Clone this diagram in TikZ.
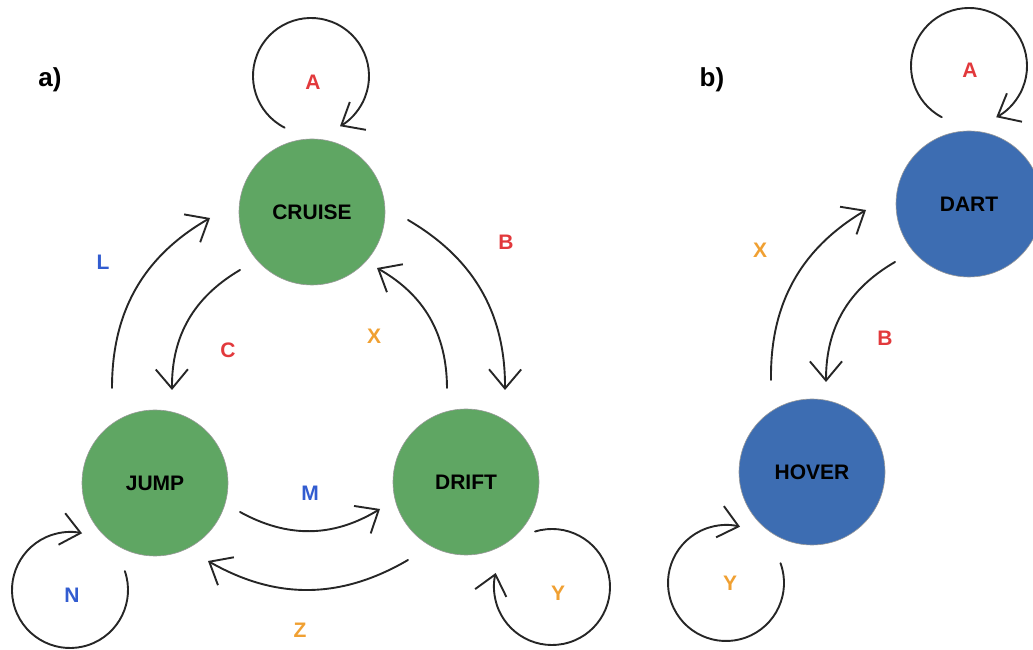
\documentclass[tikz,border=0pt]{standalone}
\usepackage{fontspec}
\setmainfont{Liberation Sans}
\usetikzlibrary{arrows.meta}
\definecolor{stategreen}{RGB}{95,166,99}
\definecolor{stateblue}{RGB}{61,109,178}
\definecolor{lblred}{RGB}{226,57,60}
\definecolor{lblblue}{RGB}{50,92,208}
\definecolor{lblorange}{RGB}{240,160,50}
\tikzstyle{vertex}=[circle,draw=black!40,line width=0.6pt,minimum size=146pt,inner sep=0pt,font=\fontsize{21}{25}\selectfont\bfseries]
\tikzstyle{edge}=[draw,line width=1.9pt,black!85,line cap=round,line join=round,-{Straight Barb[angle=80:25pt]}]
\tikzstyle{weight}=[font=\fontsize{21}{25}\selectfont\bfseries]
\tikzstyle{panel}=[font=\fontsize{26}{30}\selectfont\bfseries]
\begin{document}
\begin{tikzpicture}[x=1pt,y=1pt]
\useasboundingbox (0,0) rectangle (1033,650);

    % a) three states
    \foreach \pos/\name/\label in {{(312,438)/cruise/CRUISE}, {(155,167)/jump/JUMP}, {(466,168)/drift/DRIFT}}
        \node[vertex,fill=stategreen] (\name) at \pos {\label};

    % transitions between the states
  \foreach \source/\sx/\sy/\dest/\tx/\ty/\b in {jump/-43/95/cruise/-102/-6/30, cruise/-72/-58/jump/17/93/-30, cruise/96/-8/drift/39/92/30, drift/-19/94/cruise/65/-56/-30, jump/85/-29/drift/-86/-27/-30, drift/-58/-78/jump/53/-78/30}
          \path[edge] ([shift={(\sx,\sy)}]\source.center) to[bend left=\b] ([shift={(\tx,\ty)}]\dest.center);

    % self loops
  \foreach \source/\cx/\cy/\s/\e in {cruise/-1/136/243/-60, jump/-85/-107/19/-282, drift/86/-105/107/-194}
          \path[edge] ([shift={(\cx,\cy)}]\source.center) ++(\s:58) arc[start angle=\s, end angle=\e, radius=58];

\node[panel] (pa) at (50,570) {a)};
\node[weight,text=lblred] (wa) at (313,568) {A};
\node[weight,text=lblblue] (wl) at (103,388) {L};
\node[weight,text=lblred] (wc) at (228,300) {C};
\node[weight,text=lblred] (wb) at (506,408) {B};
\node[weight,text=lblorange] (wx) at (374,314) {X};
\node[weight,text=lblblue] (wm) at (310,157) {M};
\node[weight,text=lblorange] (wz) at (300,20) {Z};
\node[weight,text=lblblue] (wn) at (72,55) {N};
\node[weight,text=lblorange] (wy) at (558,57) {Y};

    % b) two states
    \foreach \pos/\name/\label in {{(969,446)/dart/DART}, {(812,178)/hover/HOVER}}
        \node[vertex,fill=stateblue] (\name) at \pos {\label};

  \foreach \source/\sx/\sy/\dest/\tx/\ty/\b in {hover/-41/92/dart/-103/-6/30, dart/-74/-58/hover/14/90/-30}
          \path[edge] ([shift={(\sx,\sy)}]\source.center) to[bend left=\b] ([shift={(\tx,\ty)}]\dest.center);

  \foreach \source/\cx/\cy/\s/\e in {dart/0/138/242/-62, hover/-86/-111/20/-284}
          \path[edge] ([shift={(\cx,\cy)}]\source.center) ++(\s:58) arc[start angle=\s, end angle=\e, radius=58];

\node[panel] (pb) at (712,570) {b)};
\node[weight,text=lblred] (wa2) at (970,580) {A};
\node[weight,text=lblorange] (wx2) at (760,400) {X};
\node[weight,text=lblred] (wb2) at (885,312) {B};
\node[weight,text=lblorange] (wy2) at (730,67) {Y};

   \end{tikzpicture}
\end{document}
